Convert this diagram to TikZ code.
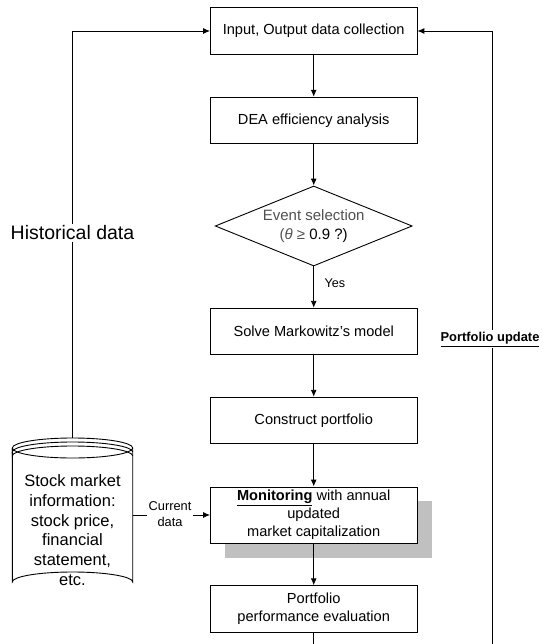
\documentclass[tikz,border=0pt]{standalone}
\usepackage{fontspec}
\setmainfont{Liberation Sans}
\usetikzlibrary{arrows.meta,shapes.geometric}
\definecolor{shadowgray}{HTML}{C0C0C0}
\definecolor{dimtext}{HTML}{505050}
\tikzset{
  boxstyle/.style={draw, line width=0.9pt, fill=white, minimum width=206.5pt, minimum height=46.5pt, inner sep=2pt, align=center, font=\fontsize{14.6}{18}\selectfont},
  conn/.style={line width=0.9pt},
  arr/.style={line width=0.9pt, -{Latex[length=7pt,width=6pt]}},
  lbl/.style={fill=white, inner sep=2pt, align=center},
}
\begin{document}
\begin{tikzpicture}[x=1pt,y=-1pt]
\useasboundingbox (0,0) rectangle (542,644);
% main nodes
\node[boxstyle] (b1) at (313.7,31) {Input, Output data collection};
\node[boxstyle] (b2) at (313.7,120.5) {DEA efficiency analysis};
\node[draw, line width=0.9pt, shape=diamond, aspect=2.46, minimum width=197pt, minimum height=80pt, inner sep=0pt, align=center, font=\fontsize{15}{19}\selectfont] (dia) at (313.7,226) {\textcolor{dimtext}{Event selection}\\\textcolor{dimtext}{(\textit{θ} ≥} 0.9 ?)};
\node[boxstyle] (b3) at (313.7,331.5) {Solve Markowitz’s model};
\node[boxstyle] (b4) at (313.7,420.5) {Construct portfolio};
\fill[shadowgray] (225,501) rectangle (431.7,558);
\node[boxstyle, minimum height=56pt] (b5) at (313.7,515) {\underline{\textbf{Monitoring}} with annual\\updated\\market capitalization};
\node[boxstyle] (b6) at (313.7,609) {Portfolio\\performance evaluation};
% database cylinder
\draw[line width=0.9pt, fill=white] (12.3,448) -- (12.3,582) arc[start angle=180, end angle=360, x radius=60.2, y radius=10] -- (132.7,448);
\draw[line width=0.9pt, fill=white] (72.5,448) ellipse[x radius=60.2, y radius=10];
\draw[line width=0.9pt] (12.3,448) ++(0,0) -- (12.3,452) arc[start angle=180, end angle=360, x radius=60.2, y radius=10];
\draw[line width=0.9pt] (12.3,452) -- (12.3,456) arc[start angle=180, end angle=360, x radius=60.2, y radius=10];
\node[align=center, inner sep=0pt, font=\fontsize{16.5}{19.7}\selectfont] (db) at (72.5,530) {Stock market\\information:\\stock price,\\financial\\statement,\\etc.};
\coordinate (dbtop) at (72.5,438);
\coordinate (dbright) at (132.7,515);
\coordinate (lt) at (72.5,31);
\coordinate (lb) at (313.7,660);
\coordinate (rb) at (492,660);
\coordinate (rt) at (492,31);
% connectors
\draw[arr] (b1) -- (b2);
\draw[arr] (b2) -- (dia);
\draw[arr] (dia) -- (b3);
\draw[arr] (b3) -- (b4);
\draw[arr] (b4) -- (b5);
\draw[arr] (b5) -- (b6);
\draw[arr] (dbtop) -- (lt) -- (b1.west);
\draw[arr] (dbright) -- (b5.west);
\draw[arr] (b6.south) -- (lb) -- (rb) -- (rt) -- (b1.east);
% labels
\node[lbl, font=\fontsize{19.5}{22}\selectfont] (hist) at (72.5,232.7) {Historical data};
\node[lbl, font=\fontsize{12.8}{16}\selectfont] (cur) at (170,514) {Current\\data};
\node[inner sep=0pt, font=\fontsize{12.6}{15}\selectfont] (yes) at (335,283) {Yes};
\node[lbl, font=\fontsize{12.9}{15}\selectfont\bfseries] (upd) at (490,339.3) {\underline{Portfolio update}};
\end{tikzpicture}
\end{document}
